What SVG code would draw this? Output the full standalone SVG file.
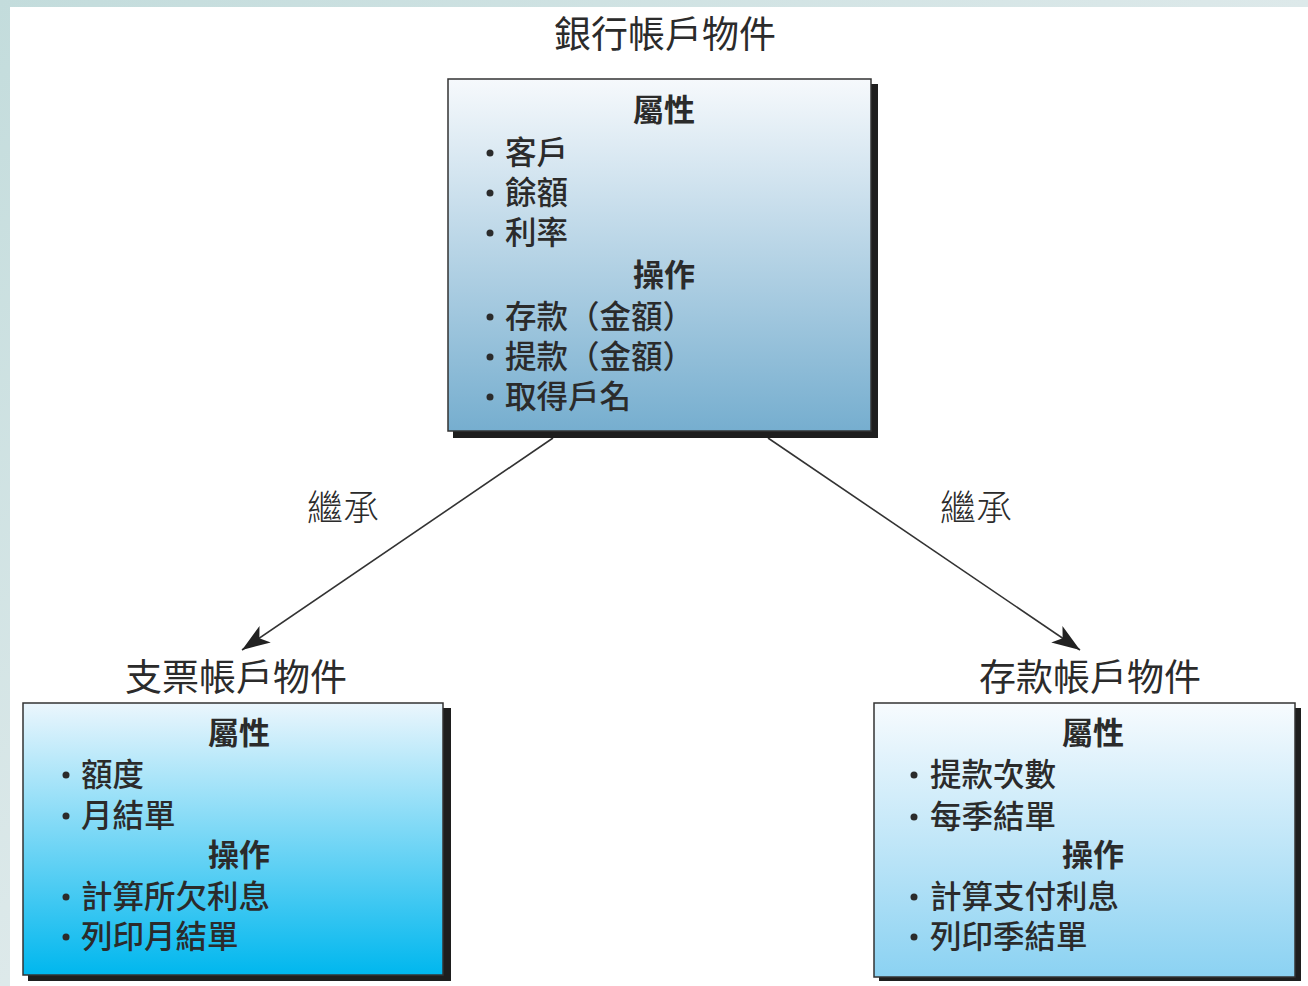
<svg xmlns="http://www.w3.org/2000/svg" width="1308" height="986" viewBox="0 0 1308 986">
  <defs>
    <linearGradient id="bg" x1="0" y1="0" x2="1" y2="1">
      <stop offset="0" stop-color="#c3dcdc"/>
      <stop offset="0.5" stop-color="#dde9ea"/>
      <stop offset="1" stop-color="#e6eeee"/>
    </linearGradient>
    <linearGradient id="gTop" x1="0" y1="0" x2="0" y2="1">
      <stop offset="0" stop-color="#f6f9fc"/>
      <stop offset="1" stop-color="#76aecf"/>
    </linearGradient>
    <linearGradient id="gLeft" x1="0" y1="0" x2="0" y2="1">
      <stop offset="0" stop-color="#ebf6fd"/>
      <stop offset="1" stop-color="#00b7ee"/>
    </linearGradient>
    <linearGradient id="gRight" x1="0" y1="0" x2="0" y2="1">
      <stop offset="0" stop-color="#f7fbfe"/>
      <stop offset="1" stop-color="#8bd2f2"/>
    </linearGradient>
    <marker id="arr" viewBox="0 0 28 20" refX="28" refY="10" markerWidth="28" markerHeight="20" markerUnits="userSpaceOnUse" orient="auto">
      <path d="M0,0 L28,10 L0,20 L7,10 z" fill="#222"/>
    </marker>
    <style>
      text { font-family: "Noto Sans CJK TC", "Noto Sans CJK SC", sans-serif; fill: #2b2b2b; }
      .title { font-size: 37px; text-anchor: middle; }
      .head { font-size: 31px; font-weight: bold; text-anchor: middle; }
      .item { font-size: 31.5px; font-weight: 500; }
      .lbl { font-size: 36px; text-anchor: middle; font-weight: 300; }
      .shadow { fill: #1e1e1e; }
      .box { stroke: #333; stroke-width: 1.5; }
      .dot { fill: #2b2b2b; }
      .conn { stroke: #333; stroke-width: 1.6; fill: none; }
    </style>
  </defs>

  <rect x="0" y="0" width="1308" height="986" fill="url(#bg)"/>
  <rect x="10" y="7" width="1298" height="979" fill="#ffffff"/>

  <g id="connectors">
    <line class="conn" x1="553" y1="438" x2="242" y2="650" marker-end="url(#arr)"/>
    <line class="conn" x1="768" y1="438" x2="1080" y2="650" marker-end="url(#arr)"/>
    <text class="lbl" x="343" y="521">繼承</text>
    <text class="lbl" x="976" y="521">繼承</text>
  </g>

  <g id="bank-account">
    <text class="title" x="665" y="48">銀行帳戶物件</text>
    <rect class="shadow" x="453" y="84" width="425" height="354"/>
    <rect class="box" x="448" y="79" width="423" height="352" fill="url(#gTop)"/>
    <text class="head" x="664" y="121">屬性</text>
    <circle class="dot" cx="490" cy="153" r="3.5"/>
    <text class="item" x="505" y="164">客戶</text>
    <circle class="dot" cx="490" cy="193" r="3.5"/>
    <text class="item" x="505" y="204">餘額</text>
    <circle class="dot" cx="490" cy="233" r="3.5"/>
    <text class="item" x="505" y="244">利率</text>
    <text class="head" x="664" y="286">操作</text>
    <circle class="dot" cx="490" cy="317" r="3.5"/>
    <text class="item" x="505" y="328">存款（金額）</text>
    <circle class="dot" cx="490" cy="357" r="3.5"/>
    <text class="item" x="505" y="368">提款（金額）</text>
    <circle class="dot" cx="490" cy="397" r="3.5"/>
    <text class="item" x="505" y="408">取得戶名</text>
  </g>

  <g id="checking-account">
    <text class="title" x="236" y="691">支票帳戶物件</text>
    <rect class="shadow" x="28" y="708" width="423" height="273"/>
    <rect class="box" x="23" y="703" width="420" height="272" fill="url(#gLeft)"/>
    <text class="head" x="239" y="744">屬性</text>
    <circle class="dot" cx="66" cy="775" r="3.5"/>
    <text class="item" x="81" y="786">額度</text>
    <circle class="dot" cx="66" cy="816" r="3.5"/>
    <text class="item" x="81" y="827">月結單</text>
    <text class="head" x="239" y="866">操作</text>
    <circle class="dot" cx="66" cy="897" r="3.5"/>
    <text class="item" x="81" y="908">計算所欠利息</text>
    <circle class="dot" cx="66" cy="937" r="3.5"/>
    <text class="item" x="81" y="948">列印月結單</text>
  </g>

  <g id="savings-account">
    <text class="title" x="1090" y="691">存款帳戶物件</text>
    <rect class="shadow" x="879" y="708" width="422" height="273"/>
    <rect class="box" x="874" y="703" width="421" height="274" fill="url(#gRight)"/>
    <text class="head" x="1093" y="744">屬性</text>
    <circle class="dot" cx="914" cy="775" r="3.5"/>
    <text class="item" x="930" y="786">提款次數</text>
    <circle class="dot" cx="914" cy="817" r="3.5"/>
    <text class="item" x="930" y="828">每季結單</text>
    <text class="head" x="1093" y="866">操作</text>
    <circle class="dot" cx="914" cy="897" r="3.5"/>
    <text class="item" x="930" y="908">計算支付利息</text>
    <circle class="dot" cx="914" cy="937" r="3.5"/>
    <text class="item" x="930" y="948">列印季結單</text>
  </g>
</svg>
